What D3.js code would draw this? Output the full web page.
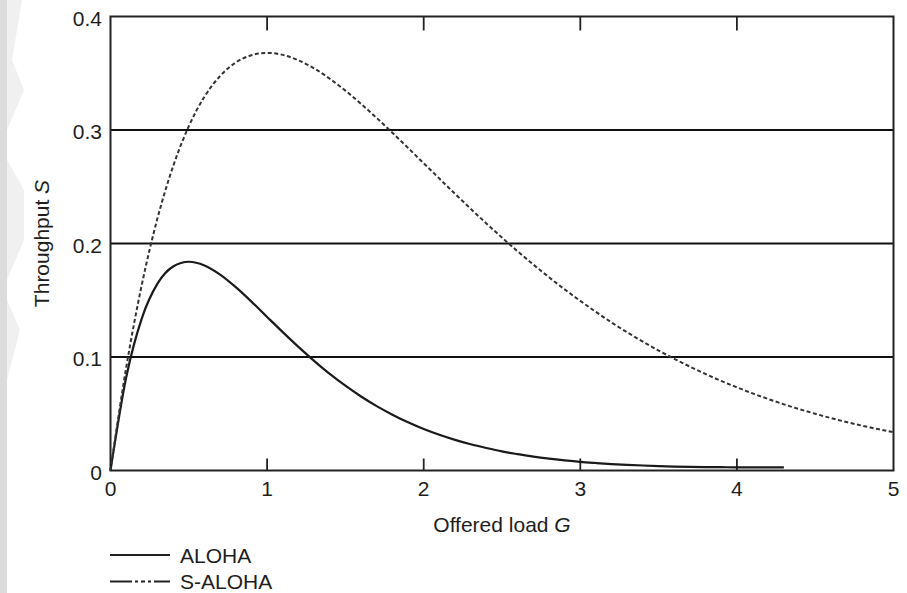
<!DOCTYPE html>
<html><head><meta charset="utf-8">
<script src="https://cdn.jsdelivr.net/npm/d3@7"></script>
<style>body{margin:0;background:#fff}svg{display:block}text{font-family:"Liberation Sans",Arial,sans-serif;fill:#1e1e1e}</style>
</head><body>
<svg id="c" width="907" height="593"></svg>
<script>
const G = [0,0.1,0.2,0.3,0.4,0.5,0.6,0.7,0.8,0.9,1.0,1.1,1.2,1.3,1.4,1.5,1.6,1.7,1.8,1.9,2.0,2.1,2.2,2.3,2.4,2.5,2.6,2.7,2.8,2.9,3.0,3.1,3.2,3.3,3.4,3.5,3.6,3.7,3.8,3.9,4.0,4.1,4.2,4.3,4.4,4.5,4.6,4.7,4.8,4.9,5.0];
const alohaS = [0,0.0819,0.1341,0.1646,0.1797,0.1839,0.1807,0.1726,0.1615,0.1488,0.1353,0.1219,0.1089,0.0966,0.0851,0.0747,0.0652,0.0567,0.0492,0.0425,0.0366,0.0315,0.0270,0.0231,0.0198,0.0168,0.0144,0.0122,0.0104,0.0089,0.0076,0.0066,0.0057,0.0050,0.0044,0.0039,0.0035,0.0032,0.0030,0.0029,0.0028,0.0028,0.0027,0.0027];
const slottedS = [0,0.0905,0.1637,0.2222,0.2681,0.3033,0.3293,0.3476,0.3595,0.3659,0.3679,0.3662,0.3614,0.3543,0.3452,0.3347,0.3230,0.3106,0.2975,0.2842,0.2707,0.2572,0.2438,0.2306,0.2177,0.2052,0.1931,0.1815,0.1703,0.1596,0.1494,0.1397,0.1304,0.1217,0.1135,0.1057,0.0984,0.0915,0.0850,0.0789,0.0733,0.0679,0.0630,0.0583,0.0540,0.0500,0.0462,0.0427,0.0395,0.0365,0.0337];
const xTicks = [0,1,2,3,4,5];
const yTicks = [0,0.1,0.2,0.3,0.4];
const yTickLabels = ["0","0.1","0.2","0.3","0.4"];
const gridValues = [0.1,0.2,0.3];
const seriesNames = ["ALOHA","S-ALOHA"];

const svg = d3.select("#c");
// faint watermark strip on left edge
svg.append("rect").attr("x",0).attr("y",0).attr("width",7).attr("height",593).attr("fill","#dcdcdc");
svg.append("path").attr("d","M7,0 L22,0 L12,60 L24,90 L7,130 Z M7,160 L24,190 L24,240 L7,280 Z M7,300 L20,330 L7,380 Z").attr("fill","#f0f0f0");

const x = d3.scaleLinear().domain([0,5]).range([110.5,893.5]);
const y = d3.scaleLinear().domain([0,0.4]).range([470.5,16.5]);

// gridlines
svg.append("g").selectAll("line").data(gridValues).join("line")
  .attr("x1",x(0)).attr("x2",x(5)).attr("y1",d=>y(d)).attr("y2",d=>y(d))
  .attr("stroke","#111").attr("stroke-width",1.8);

// frame
svg.append("rect").attr("x",x(0)).attr("y",y(0.4)).attr("width",x(5)-x(0)).attr("height",y(0)-y(0.4))
  .attr("fill","none").attr("stroke","#222").attr("stroke-width",2);

// inward ticks bottom & top
const inner = xTicks.filter(d=>d>0&&d<5);
svg.append("g").selectAll("line").data(inner).join("line")
  .attr("x1",d=>x(d)).attr("x2",d=>x(d)).attr("y1",y(0)).attr("y2",y(0)-12)
  .attr("stroke","#222").attr("stroke-width",1.8);
svg.append("g").selectAll("line").data(inner).join("line")
  .attr("x1",d=>x(d)).attr("x2",d=>x(d)).attr("y1",y(0.4)).attr("y2",y(0.4)+14)
  .attr("stroke","#222").attr("stroke-width",1.8);

// tick labels
svg.append("g").selectAll("text").data(xTicks).join("text")
  .attr("x",d=>x(d)).attr("y",496).attr("text-anchor","middle").attr("font-size",21).text(d=>d);
svg.append("g").selectAll("text").data(yTicks).join("text")
  .attr("x",102).attr("y",d=>y(d)+9).attr("text-anchor","end").attr("font-size",21)
  .text((d,i)=>yTickLabels[i]);

// axis titles
const xt = svg.append("text").attr("x",(x(0)+x(5))/2).attr("y",532).attr("text-anchor","middle").attr("font-size",21);
xt.append("tspan").text("Offered load ");
xt.append("tspan").attr("font-style","italic").text("G");
const yt = svg.append("text").attr("transform",`translate(49,${(y(0)+y(0.4))/2}) rotate(-90)`).attr("text-anchor","middle").attr("font-size",21);
yt.append("tspan").text("Throughput ");
yt.append("tspan").attr("font-style","italic").text("S");

// curves
const line = d3.line().x(d=>x(d[0])).y(d=>y(d[1])).curve(d3.curveMonotoneX);
svg.append("path").datum(alohaS.map((v,i)=>[G[i],v])).attr("d",line)
  .attr("fill","none").attr("stroke","#1a1a1a").attr("stroke-width",2.2);
svg.append("path").datum(slottedS.map((v,i)=>[G[i],v])).attr("d",line)
  .attr("fill","none").attr("stroke","#333").attr("stroke-width",2).attr("stroke-dasharray","4,2.5");

// legend
const lg = svg.append("g");
const dashes = [null,"22,3,3,3,4,3,3,3,30"];
seriesNames.forEach((n,i)=>{
  const ly = 555 + i*26.5;
  lg.append("line").attr("x1",110).attr("x2",170).attr("y1",ly).attr("y2",ly)
    .attr("stroke","#222").attr("stroke-width",1.8).attr("stroke-dasharray",dashes[i]);
  lg.append("text").attr("x",180).attr("y",ly+7.5).attr("font-size",21).text(n);
});
</script>
</body></html>
